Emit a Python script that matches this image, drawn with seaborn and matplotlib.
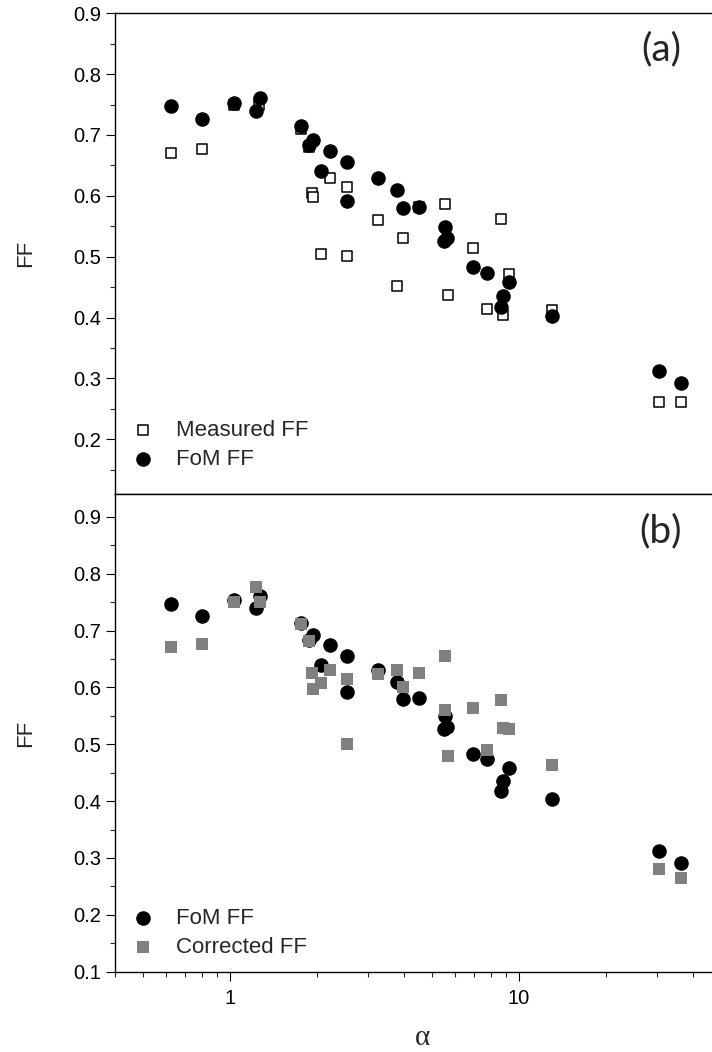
import numpy as np
import pandas as pd
import matplotlib
matplotlib.use("Agg")
import matplotlib.pyplot as plt
import seaborn as sns

# ---------------- data ----------------
fom_alpha = [0.625, 0.802, 1.035, 1.227, 1.27, 1.76, 1.87, 1.93, 2.06, 2.22, 2.55, 2.55,
             3.26, 3.77, 3.98, 4.51, 5.54, 5.62, 5.50, 6.92, 7.77, 8.64, 8.78, 9.23,
             13.0, 30.5, 36.5]
fom_ff = [0.747, 0.726, 0.753, 0.740, 0.761, 0.714, 0.683, 0.692, 0.640, 0.674, 0.656, 0.591,
          0.630, 0.610, 0.580, 0.582, 0.549, 0.531, 0.526, 0.483, 0.474, 0.418, 0.435, 0.459,
          0.403, 0.312, 0.292]

meas_alpha = [0.625, 0.802, 1.035, 1.26, 1.76, 1.87, 1.92, 1.94, 2.06, 2.22, 2.55, 2.55,
              3.26, 3.77, 3.98, 4.51, 5.54, 5.66, 6.92, 7.77, 8.64, 8.78, 9.23, 13.0,
              30.5, 36.5]
meas_ff = [0.670, 0.677, 0.750, 0.750, 0.709, 0.680, 0.605, 0.598, 0.505, 0.630, 0.615, 0.501,
           0.561, 0.452, 0.531, 0.582, 0.587, 0.437, 0.514, 0.414, 0.562, 0.404, 0.471, 0.412,
           0.261, 0.262]

corr_alpha = [0.625, 0.802, 1.035, 1.23, 1.27, 1.76, 1.87, 1.92, 1.94, 2.06, 2.22, 2.55, 2.55,
              3.26, 3.77, 3.98, 4.51, 5.54, 5.54, 5.68, 6.92, 7.77, 8.64, 8.78, 9.23, 13.0,
              30.5, 36.5]
corr_ff = [0.671, 0.677, 0.750, 0.777, 0.750, 0.712, 0.681, 0.626, 0.598, 0.608, 0.630, 0.615, 0.500,
           0.624, 0.630, 0.601, 0.626, 0.656, 0.561, 0.479, 0.564, 0.490, 0.578, 0.529, 0.526, 0.464,
           0.281, 0.264]

x_major = [1, 10]
x_major_labels = ["1", "10"]

# ---------------- style ----------------
sns.set_style("ticks")
plt.rcParams['font.family'] = ['Liberation Sans', 'DejaVu Sans']
plt.rcParams['axes.linewidth'] = 1.0
plt.rcParams['xtick.major.width'] = 0.8
plt.rcParams['ytick.major.width'] = 0.8
plt.rcParams['xtick.minor.width'] = 0.8
plt.rcParams['ytick.minor.width'] = 0.8

fig = plt.figure(figsize=(7.12, 10.52), dpi=100)
ax1 = fig.add_axes([0.1615, 0.5304, 0.8511, 0.4570])
ax2 = fig.add_axes([0.1615, 0.0763, 0.8511, 0.4541], sharex=ax1)

df_fom = pd.DataFrame({"alpha": fom_alpha, "FF": fom_ff})
df_meas = pd.DataFrame({"alpha": meas_alpha, "FF": meas_ff})
df_corr = pd.DataFrame({"alpha": corr_alpha, "FF": corr_ff})

# top panel
sns.scatterplot(data=df_meas, x="alpha", y="FF", ax=ax1, marker="s", s=56,
                facecolor="white", edgecolor="black", linewidth=1.1,
                label="Measured FF", zorder=2)
sns.scatterplot(data=df_fom, x="alpha", y="FF", ax=ax1, marker="o", s=110,
                color="black", linewidth=0, label="FoM FF", zorder=3)

# bottom panel
sns.scatterplot(data=df_fom, x="alpha", y="FF", ax=ax2, marker="o", s=110,
                color="black", linewidth=0, label="FoM FF", zorder=2)
sns.scatterplot(data=df_corr, x="alpha", y="FF", ax=ax2, marker="s", s=82,
                color="#808080", linewidth=0, label="Corrected FF", zorder=3)

for ax in (ax1, ax2):
    ax.set_xscale("log")
    ax.set_xlim(0.4, 50)
    ax.tick_params(axis="both", which="major", direction="out", length=6.5,
                   labelsize=14.5, colors="black")
    ax.tick_params(axis="both", which="minor", direction="out", length=3.5)
    ax.tick_params(axis="y", which="both", right=False)
    ax.set_ylabel("FF", fontsize=16)
    ax.yaxis.set_label_coords(-0.13, 0.5)
    for sp in ax.spines.values():
        sp.set_linewidth(1.0)
        sp.set_color("black")

minor_x = [0.4, 0.5, 0.6, 0.7, 0.8, 0.9, 2, 3, 4, 5, 6, 7, 8, 9, 20, 30, 40, 50]
ax2.set_xticks(x_major)
ax2.set_xticklabels(x_major_labels)
ax2.set_xticks(minor_x, minor=True)
ax2.xaxis.set_minor_formatter(matplotlib.ticker.NullFormatter())

ax1.tick_params(axis="x", which="both", top=False, bottom=True, labelbottom=False)
ax2.tick_params(axis="x", which="both", top=False, bottom=True, labelbottom=True)
ax2.tick_params(axis="x", which="major", pad=6)

ax1.set_ylim(0.11, 0.9)
ax1.set_yticks(np.arange(0.2, 0.91, 0.1))
ax1.set_yticks(np.arange(0.15, 0.9, 0.05), minor=True)
ax1.set_yticklabels([f"{v:.1f}" for v in np.arange(0.2, 0.91, 0.1)])

ax2.set_ylim(0.1, 0.94)
ax2.set_yticks(np.arange(0.1, 0.91, 0.1))
ax2.set_yticks(np.arange(0.1, 0.94, 0.05), minor=True)
ax2.set_yticklabels([f"{v:.1f}" for v in np.arange(0.1, 0.91, 0.1)])

ax1.set_xlabel("")
ax2.set_xlabel("\u03b1", fontsize=21, family=["Liberation Serif", "DejaVu Serif"],
               va="baseline")
ax2.xaxis.set_label_coords(0.508, -0.1525)

ax1.text(0.901, 0.924, "(a)", transform=ax1.transAxes, ha="center", va="center",
         fontsize=28, family=["Lato", "DejaVu Sans"])
ax2.text(0.901, 0.923, "(b)", transform=ax2.transAxes, ha="center", va="center",
         fontsize=28, family=["Lato", "DejaVu Sans"])

for ax, y0 in ((ax1, 0.051), (ax2, 0.029)):
    ax.legend(loc="lower left", bbox_to_anchor=(0.028, y0), frameon=False,
              fontsize=16, handlelength=1.0, handletextpad=1.0, labelspacing=0.35,
              borderpad=0, borderaxespad=0, scatterpoints=1)

fig.savefig("out.png", dpi=100)
